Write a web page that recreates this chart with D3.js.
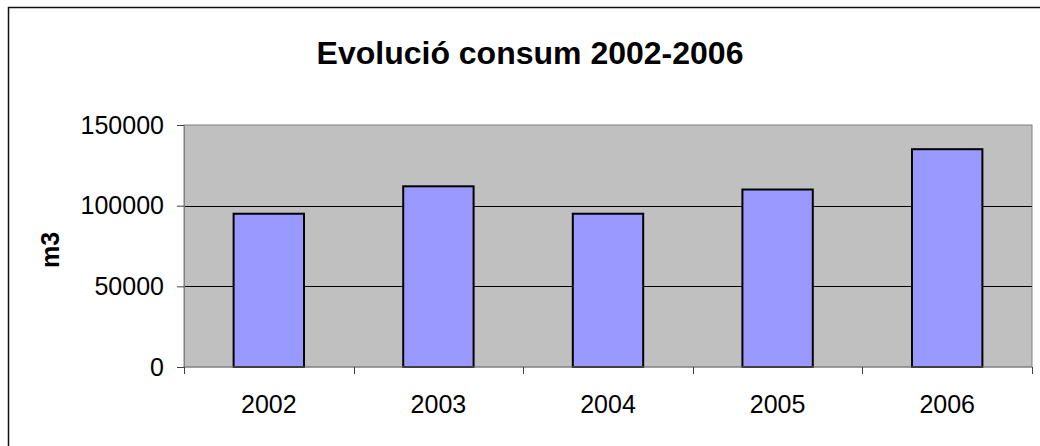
<!DOCTYPE html>
<html>
<head>
<meta charset="utf-8">
<script src="https://cdn.jsdelivr.net/npm/d3@7"></script>
<style>
  body { margin: 0; background: #fff; }
  svg { display: block; font-family: Arial, "Liberation Sans", sans-serif; }
</style>
</head>
<body>
<div id="chart"><svg></svg></div>
<script>
const years = ["2002", "2003", "2004", "2005", "2006"];
const consum = [95000, 112000, 95000, 110000, 135000];
const yTicks = [0, 50000, 100000, 150000];

const width = 1040, height = 446;
const margin = { top: 125, right: 8, bottom: 79, left: 184 };

const svg = d3.select("#chart > svg")
  .attr("width", width)
  .attr("height", height);

// outer chart frame (runs off the right/bottom of the picture)
svg.append("rect")
  .attr("x", 8.5).attr("y", 7.5)
  .attr("width", width + 20).attr("height", height + 20)
  .attr("fill", "#fff")
  .attr("stroke", "#111")
  .attr("stroke-width", 1.5);

const x = d3.scaleBand()
  .domain(years)
  .range([margin.left, width - margin.right])
  .paddingInner(0.585)
  .paddingOuter(0.2925);

const y = d3.scaleLinear()
  .domain([0, 150000])
  .range([height - margin.bottom, margin.top]);

// plot area
svg.append("rect")
  .attr("x", margin.left)
  .attr("y", y(150000))
  .attr("width", width - margin.right - margin.left)
  .attr("height", y(0) - y(150000))
  .attr("fill", "#c0c0c0")
  .attr("stroke", "#808080")
  .attr("stroke-width", 1);

// gridlines
svg.append("g")
  .selectAll("line")
  .data(yTicks.filter(d => d > 0 && d < 150000))
  .join("line")
  .attr("x1", margin.left)
  .attr("x2", width - margin.right)
  .attr("y1", d => Math.round(y(d)) + 0.5)
  .attr("y2", d => Math.round(y(d)) + 0.5)
  .attr("stroke", "#000")
  .attr("stroke-width", 1);

// bars
svg.append("g")
  .selectAll("rect")
  .data(years)
  .join("rect")
  .attr("x", d => x(d))
  .attr("y", (d, i) => y(consum[i]))
  .attr("width", x.bandwidth())
  .attr("height", (d, i) => y(0) - y(consum[i]))
  .attr("fill", "#9999ff")
  .attr("stroke", "#000")
  .attr("stroke-width", 2);

// y axis
const yAxis = svg.append("g")
  .attr("transform", `translate(${margin.left},0)`)
  .call(d3.axisLeft(y).tickValues(yTicks).tickSize(7).tickPadding(13).tickFormat(d3.format("d")));
yAxis.select(".domain").attr("stroke", "#808080");
yAxis.selectAll(".tick line").attr("stroke", "#404040");
yAxis.selectAll("text")
  .attr("font-size", 25)
  .attr("font-family", "Arial, 'Liberation Sans', sans-serif")
  .attr("fill", "#000");

// x axis, ticks at the category boundaries
const step = x.step();
const bounds = d3.range(years.length + 1).map(i => margin.left + i * step);
const xg = svg.append("g");
xg.append("line")
  .attr("x1", margin.left).attr("x2", width - margin.right)
  .attr("y1", y(0)).attr("y2", y(0))
  .attr("stroke", "#808080");
xg.selectAll("line.tk")
  .data(bounds)
  .join("line")
  .attr("class", "tk")
  .attr("x1", d => Math.round(d) + 0.5)
  .attr("x2", d => Math.round(d) + 0.5)
  .attr("y1", y(0))
  .attr("y2", y(0) + 7)
  .attr("stroke", "#404040");
xg.selectAll("text")
  .data(years)
  .join("text")
  .attr("x", d => x(d) + x.bandwidth() / 2)
  .attr("y", 413)
  .attr("text-anchor", "middle")
  .attr("font-size", 25)
  .text(d => d);

// title
svg.append("text")
  .attr("x", 530)
  .attr("y", 64)
  .attr("text-anchor", "middle")
  .attr("font-size", 32)
  .attr("font-weight", "bold")
  .text("Evolució consum 2002-2006");

// y label
svg.append("text")
  .attr("transform", `translate(59,${(y(0) + y(150000)) / 2 + 4}) rotate(-90)`)
  .attr("text-anchor", "middle")
  .attr("font-size", 25)
  .attr("font-weight", "bold")
  .text("m3");
</script>
</body>
</html>
